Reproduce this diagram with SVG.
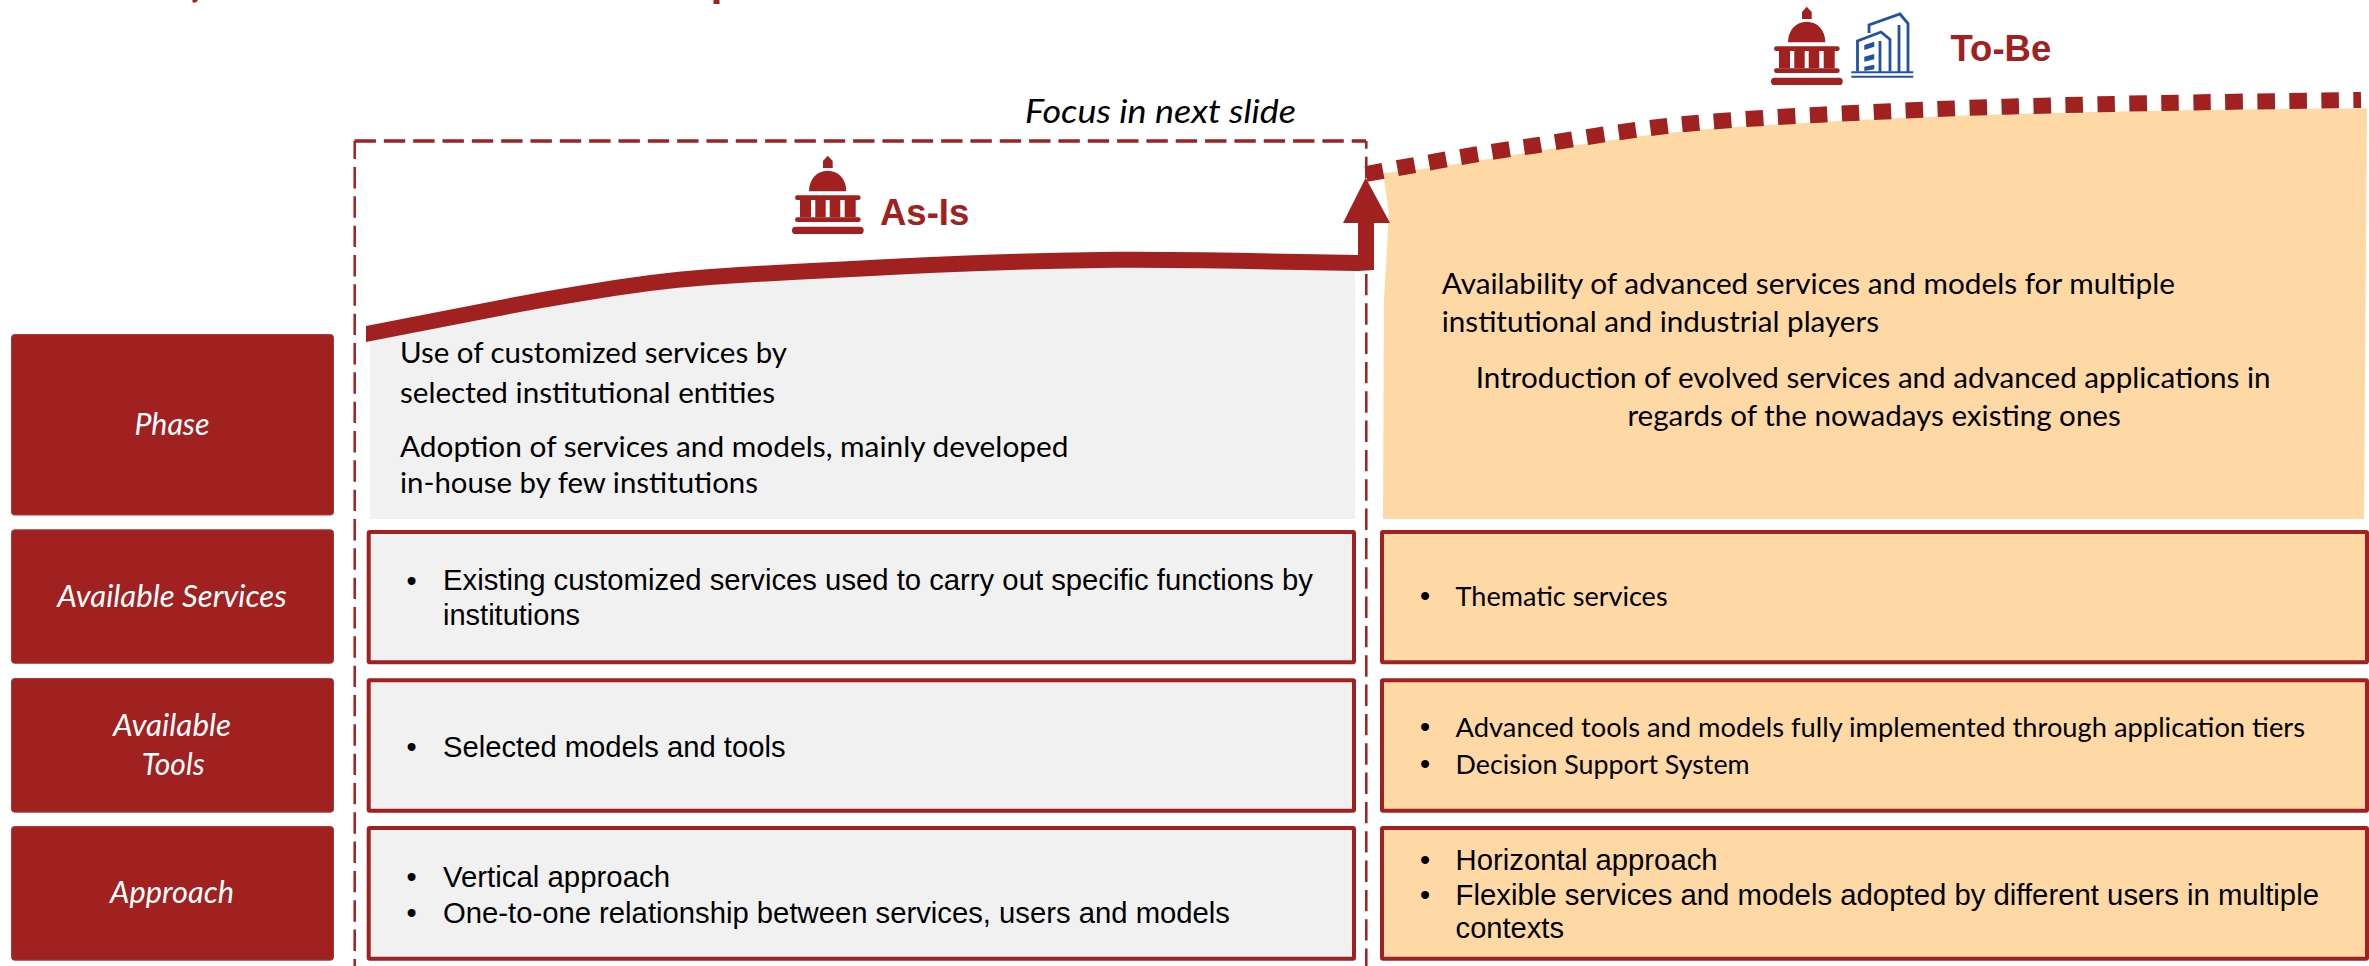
<svg xmlns="http://www.w3.org/2000/svg" xmlns:xlink="http://www.w3.org/1999/xlink" width="2369" height="966" viewBox="0 0 2369 966">
<style>
text{font-family:"Lato","Open Sans",sans-serif;fill:#000}
.a{font-family:"Liberation Sans",Arial,sans-serif;font-size:29px}
.c{font-size:29px}
.t{font-size:27.5px}
.l{font-size:31px;font-style:italic;fill:#fff}
.b{font-family:"Liberation Sans",Arial,sans-serif;font-size:29px;text-anchor:middle}
.h{font-family:"Liberation Sans",Arial,sans-serif;font-size:36.5px;font-weight:700;fill:#a12020}
.lab{fill:#a12020;stroke:#b03a3a;stroke-width:1}
.as{fill:#f1f1f1;stroke:#a12020;stroke-width:4}
.to{fill:#fed9a6;stroke:#a12020;stroke-width:4}
.ic{fill:#a12020}
.bl{fill:none;stroke:#2352a5;stroke-width:2.8}
</style>
<defs>
<g id="capitol" class="ic">
<path d="M827.7,155.7L832.7,161V168H823V161Z"/>
<path d="M809,191.3C809,179 817,170.7 827.7,170.7S846.3,179 846.3,191.3Z"/>
<rect x="795" y="195.3" width="65.7" height="4.8" rx="2.4"/>
<path d="M800,200H811V217.3H800ZM815.3,200H825.7V217.3H815.3ZM829.7,200H840.3V217.3H829.7ZM844.7,200H855.7V217.3H844.7Z"/>
<rect x="795" y="217.3" width="65.7" height="4.8" rx="2.4"/>
<rect x="792" y="226.7" width="71.7" height="7.3" rx="3.6"/>
</g>
</defs>
<g id="title-remnant" class="ic">
<path d="M192.5,0H198L196,2.4H192.5Z"/>
<rect x="713.5" y="0" width="6" height="4"/>
</g>
<path id="as-is-area" fill="#f1f1f1" d="M370,335C460,316 555,295.4 650,283C714,275.3 778,273 842,269.5C928,264.8 1014,260.9 1100,260C1186,259.1 1272,261.500 1355,262V519H370Z"/>
<path id="to-be-area" fill="#fed9a6" d="M1383,173C1400,171 1418,170 1437,167C1470,162 1500,157 1532,152C1580,144 1630,137 1678,132C1725,127 1775,124.500 1821,122C1870,119 1915,117.500 1964,115.500C2100,111 2240,109 2367,108.500L2364,519H1383L1384,300L1389,213Z"/>
<g id="focus-frame" fill="none" stroke="#a12020" stroke-dasharray="21.4 7.93">
<path stroke-width="3.5" d="M354.500,141H1366"/>
<path stroke-width="2.500" stroke-dashoffset="3.300" d="M354.700,141V966"/>
<path stroke-width="2.500" stroke-dashoffset="13.700" d="M1366.300,141V966"/>
</g>
<g id="connectors">
<path id="as-is-line" fill="#a12020" d="M366,326C460,308 555,287.400 650,275C714,267.300 778,265 842,261.500C928,256.800 1014,252.900 1100,252C1186,251.100 1272,254 1358,255V223H1343L1365.700,177.700L1390,223H1374V270L1358,271C1272,270 1186,267.100 1100,268C1014,268.900 928,272.800 842,277.500C778,281 714,283.300 650,291C555,303.400 460,324 366,342Z"/>
<path id="to-be-line" fill="none" stroke="#a12020" stroke-width="16" stroke-dasharray="17.500 14.500" d="M1366,174C1420,164 1480,153 1532,146C1580,138 1630,130 1678,124.700C1725,120 1775,117 1821,114.700C1870,112 1915,110 1964,108C2085,104 2200,102 2361,100"/>
</g>
<g id="as-is-header">
<use xlink:href="#capitol" href="#capitol"/>
<text class="h" x="880" y="225">As-Is</text>
</g>
<g id="to-be-header">
<use xlink:href="#capitol" href="#capitol" transform="translate(979,-149)"/>
<g id="building">
<path class="bl" d="M1869,33V25L1900,14L1908,23.500V72.500M1899,25V72.500"/>
<path class="bl" d="M1857.500,71.500V41L1881,32L1890,39.500V71.500M1880,41V72.500"/>
<path fill="#2352a5" d="M1864.300,45L1874.300,41.700V46.700L1864.300,50ZM1864.300,56.700L1874.300,54V59.300L1864.300,61.700ZM1864.300,66.700L1874.300,64.700V69.300L1864.300,71Z"/>
<path fill="#2352a5" d="M1851.300,71.300H1913.300V73.300H1851.300ZM1851.300,75.700H1913.300V77.700H1851.300Z"/>
</g>
<text class="h" x="1950.500" y="60.700" font-size="36">To-Be</text>
</g>
<g id="focus-label"><text x="1025" y="122.700" font-size="33" font-style="italic" textLength="271" lengthAdjust="spacingAndGlyphs">Focus in next slide</text></g>
<g id="label-phase"><rect class="lab" x="11.500" y="334.500" width="322" height="180.500" rx="3"/><text class="l" x="134.500" y="435" textLength="75" lengthAdjust="spacingAndGlyphs">Phase</text></g>
<g id="label-services"><rect class="lab" x="11.500" y="529.800" width="322" height="133.500" rx="3"/><text class="l" x="57.300" y="606.700" textLength="229.400" lengthAdjust="spacingAndGlyphs">Available Services</text></g>
<g id="label-tools"><rect class="lab" x="11.500" y="678.500" width="322" height="133.700" rx="3"/><text class="l" x="113" y="736" textLength="118" lengthAdjust="spacingAndGlyphs">Available</text><text class="l" x="141.700" y="775.300" textLength="63" lengthAdjust="spacingAndGlyphs">Tools</text></g>
<g id="label-approach"><rect class="lab" x="11.500" y="826.500" width="322" height="133.700" rx="3"/><text class="l" x="110" y="903.300" textLength="124" lengthAdjust="spacingAndGlyphs">Approach</text></g>
<g id="as-is-phase-text">
<text class="c" x="400" y="362.700" textLength="387" lengthAdjust="spacingAndGlyphs">Use of customized services by</text>
<text class="c" x="400" y="403.300" textLength="375" lengthAdjust="spacingAndGlyphs">selected institutional entities</text>
<text class="c" x="400" y="456.700" textLength="668.500" lengthAdjust="spacingAndGlyphs">Adoption of services and models, mainly developed</text>
<text class="c" x="400" y="493.300" textLength="358" lengthAdjust="spacingAndGlyphs">in-house by few institutions</text>
</g>
<g id="to-be-phase-text">
<text class="c" x="1441.700" y="294" textLength="733.300" lengthAdjust="spacingAndGlyphs">Availability of advanced services and models for multiple</text>
<text class="c" x="1441.700" y="332.300" textLength="437.300" lengthAdjust="spacingAndGlyphs">institutional and industrial players</text>
<text class="c" x="1475.800" y="388.300" textLength="794.700" lengthAdjust="spacingAndGlyphs">Introduction of evolved services and advanced applications in</text>
<text class="c" x="1627.400" y="425.700" textLength="493.400" lengthAdjust="spacingAndGlyphs">regards of the nowadays existing ones</text>
</g>
<g id="as-is-services"><rect class="as" x="368.700" y="532" width="985.300" height="130.300" rx="1"/>
<text class="b" x="411.700" y="591">•</text><text class="a" x="443" y="590" textLength="870" lengthAdjust="spacingAndGlyphs">Existing customized services used to carry out specific functions by</text><text class="a" x="443" y="625">institutions</text></g>
<g id="as-is-tools"><rect class="as" x="368.700" y="680.300" width="985.300" height="130.400" rx="1"/>
<text class="b" x="411.700" y="757">•</text><text class="a" x="443" y="756.700" textLength="342.500" lengthAdjust="spacingAndGlyphs">Selected models and tools</text></g>
<g id="as-is-approach"><rect class="as" x="368.700" y="828" width="985.300" height="130.700" rx="1"/>
<text class="b" x="411.700" y="887">•</text><text class="a" x="443" y="886.700" textLength="227" lengthAdjust="spacingAndGlyphs">Vertical approach</text>
<text class="b" x="411.700" y="923">•</text><text class="a" x="443" y="922.700" textLength="787" lengthAdjust="spacingAndGlyphs">One-to-one relationship between services, users and models</text></g>
<g id="to-be-services"><rect class="to" x="1382" y="532" width="985" height="130.300" rx="1"/>
<text class="b" x="1425" y="606">•</text><text class="t" x="1455.600" y="606" textLength="212" lengthAdjust="spacingAndGlyphs">Thematic services</text></g>
<g id="to-be-tools"><rect class="to" x="1382" y="680.300" width="985" height="130.400" rx="1"/>
<text class="b" x="1425" y="737.300">•</text><text class="t" x="1455.600" y="736.700" textLength="849.400" lengthAdjust="spacingAndGlyphs">Advanced tools and models fully implemented through application tiers</text>
<text class="b" x="1425" y="774">•</text><text class="t" x="1455.600" y="774" textLength="294" lengthAdjust="spacingAndGlyphs">Decision Support System</text></g>
<g id="to-be-approach"><rect class="to" x="1382" y="828" width="985" height="130.700" rx="1"/>
<text class="b" x="1425" y="870">•</text><text class="a" x="1455.600" y="870" textLength="262" lengthAdjust="spacingAndGlyphs">Horizontal approach</text>
<text class="b" x="1425" y="905">•</text><text class="a" x="1455.600" y="905" textLength="863.400" lengthAdjust="spacingAndGlyphs">Flexible services and models adopted by different users in multiple</text>
<text class="a" x="1455.600" y="938.300" textLength="108.400" lengthAdjust="spacingAndGlyphs">contexts</text></g>
</svg>
